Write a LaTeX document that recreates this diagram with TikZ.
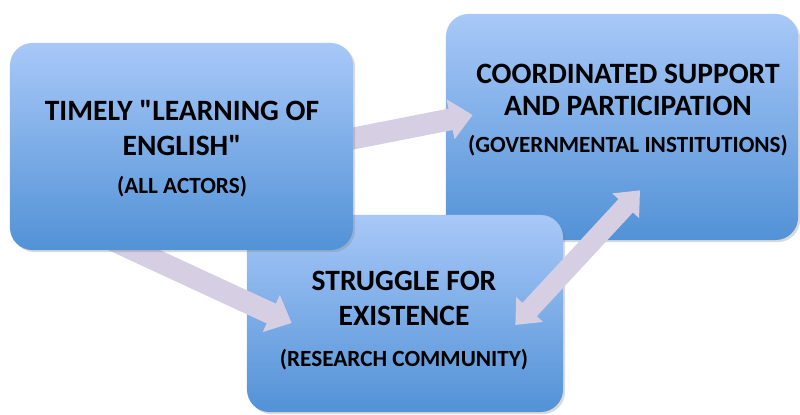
\documentclass[tikz,border=0pt]{standalone}
\usepackage{fontspec}
\setmainfont{Carlito}[Ligatures=TeXOff]
\usetikzlibrary{shadows}
\usetikzlibrary{arrows.meta}
\definecolor{boxtop}{RGB}{168,200,248}
\definecolor{boxbot}{RGB}{82,146,214}
\definecolor{arrowlav}{RGB}{214,206,226}
\pgfdeclarelayer{front}
\pgfsetlayers{main,front}

\begin{document}
\begin{tikzpicture}[x=0.025cm, y=-0.025cm,
  bluebox/.style={rectangle, rounded corners=16pt, inner sep=0pt,
    top color=boxtop, bottom color=boxbot,
    drop shadow={shadow xshift=1.5pt, shadow yshift=-1.5pt, opacity=0.3}},
  headline/.style={anchor=base, inner sep=0pt,
    font=\fontsize{21}{25}\selectfont\bfseries},
  subline/.style={anchor=base, inner sep=0pt,
    font=\fontsize{16.5}{19}\selectfont\bfseries},
  fatarrow/.style={draw=arrowlav, line width=15.5pt,
    -{Triangle[width=28pt, length=16pt]}},
  twinarrow/.style={draw=arrowlav, line width=14pt,
    {Triangle[width=25pt, length=15pt]}-{Triangle[width=25pt, length=15pt]}}]

\useasboundingbox (0,0) rectangle (800,414);

% left box, drawn over the others
\begin{pgfonlayer}{front}
  \node[bluebox, minimum width=8.575cm, minimum height=5.175cm] (engBox) at (181.5,146.5) {};
  \node[headline] (engTop) at (182,120) {TIMELY "LEARNING OF};
  \node[headline] (engMid) at (182,155) {ENGLISH"};
  \node[subline]  (engSub) at (182,193) {(ALL ACTORS)};
\end{pgfonlayer}

% right box
\node[bluebox, minimum width=8.8cm, minimum height=5.65cm] (govBox) at (622,127) {};
\node[headline] (govTop) at (628,83)  {COORDINATED SUPPORT};
\node[headline] (govMid) at (628,115) {AND PARTICIPATION};
\node[subline]  (govSub) at (628,152) {(GOVERNMENTAL INSTITUTIONS)};

% bottom box
\node[bluebox, minimum width=7.9cm, minimum height=4.925cm] (resBox) at (405,313.5) {};
\node[headline] (resTop) at (404,290) {STRUGGLE FOR};
\node[headline] (resMid) at (404,325) {EXISTENCE};
\node[subline]  (resSub) at (404,366) {(RESEARCH COMMUNITY)};

% arrows
\draw[fatarrow] ([shift={(-13,-5.5)}]engBox.east) -- ([shift={(27,-12)}]govBox.west);
\draw[fatarrow] ([shift={(-81.5,-16)}]engBox.south) -- ([shift={(45,9.5)}]resBox.west);
\draw[twinarrow] ([shift={(-48,11.5)}]resBox.east) -- ([shift={(18,-50)}]govBox.south);

\end{tikzpicture}
\end{document}
